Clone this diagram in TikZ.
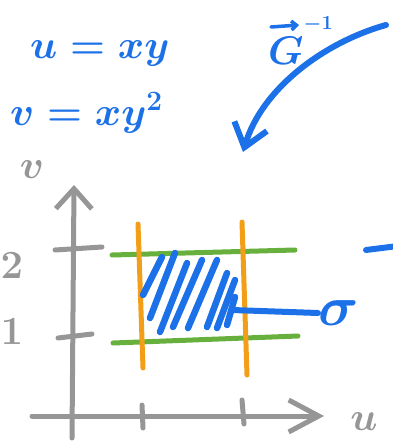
\RequirePackage{fix-cm}
\documentclass[tikz,border=0pt]{standalone}
\usepackage{amsmath}
\usepackage{xcolor}
\usepackage{tikz}
\usetikzlibrary{arrows.meta,positioning}
\definecolor{penblue}{RGB}{28,112,232}
\definecolor{pengray}{RGB}{150,150,150}
\definecolor{penorange}{RGB}{243,158,24}
\definecolor{pengreen}{RGB}{104,176,62}

\begin{document}
\begin{tikzpicture}[x=1pt, y=-1pt,
    line cap=round, line join=round,
    axis/.style={draw=pengray, line width=5pt},
    ubound/.style={draw=penorange, line width=5pt},
    vbound/.style={draw=pengreen, line width=5pt},
    hatch/.style={draw=penblue, line width=6.5pt},
    ink/.style={draw=penblue, line width=6pt},
    bluetext/.style={text=penblue, font=\fontsize{40}{48}\selectfont\boldmath, inner sep=0pt},
    graytext/.style={text=pengray, font=\fontsize{40}{48}\selectfont\boldmath, inner sep=0pt},
    barb/.style={-{Straight Barb[length=22pt, width=34pt]}}
  ]
  \useasboundingbox (0,0) rectangle (393,445);

  % formulas
  \node[bluetext, anchor=base west] (ueq) at (30,58) {$u = xy$};
  \node[bluetext, anchor=base west] (veq) at (10,125) {$v = xy^2$};
  \node[bluetext, anchor=base west] (ginv) at (268,64)
    {$G^{\raisebox{20pt}{$\scriptscriptstyle -1$}}$};
  \draw[draw=penblue, line width=3.5pt, -{Straight Barb[length=5pt, width=9pt]}]
    (271,27) -- (299,25);

  % inverse map arrow
  \coordinate (gfrom) at (386,25);
  \coordinate (gto) at (243,152);
  \draw[ink, barb] (gfrom) .. controls (325,42) and (262,88) .. (gto);

  % axes
  \draw[axis, -{Straight Barb[length=20pt, width=36pt]}] (72,438) -- (74,185);
  \draw[axis, -{Straight Barb[length=30pt, width=32pt]}] (32,416) -- (324,416);
  \node[graytext] (vlab) at (32,170) {$v$};
  \node[graytext] (ulab) at (364,422) {$u$};
  \node[graytext] (two) at (12,266) {$2$};
  \node[graytext] (one) at (12,332) {$1$};

  % ticks
  \draw[axis] (55,250) -- (102,247);
  \draw[axis] (58,338) -- (92,334);
  \draw[axis] (142,405) -- (143,428);
  \draw[axis] (242,400) -- (244,424);

  % the rectangle
  \draw[vbound] (112,255) -- (295,250);
  \draw[vbound] (113,343) -- (298,336);
  \draw[ubound] (138,224) -- (143,368);
  \draw[ubound] (242,222) -- (247,375);

  % hatching
  \draw[hatch] (143,295) -- (162,257);
  \draw[hatch] (150,318) -- (175,253);
  \draw[hatch] (160,332) -- (187,263);
  \draw[hatch] (173,327) -- (202,260);
  \draw[hatch] (188,328) -- (217,260);
  \draw[hatch] (207,327) -- (227,273);
  \draw[hatch] (217,328) -- (235,280);
  \draw[hatch] (227,325) -- (235,297);

  % label of the region
  \coordinate (hatchend) at (232,310);
  \node[bluetext, font=\fontsize{56}{60}\selectfont\boldmath, anchor=west] (sigma) at (318,313) {$\sigma$};
  \draw[ink] (hatchend) -- (sigma.west);
  \draw[ink] (366,250) -- (398,246);
\end{tikzpicture}
\end{document}
